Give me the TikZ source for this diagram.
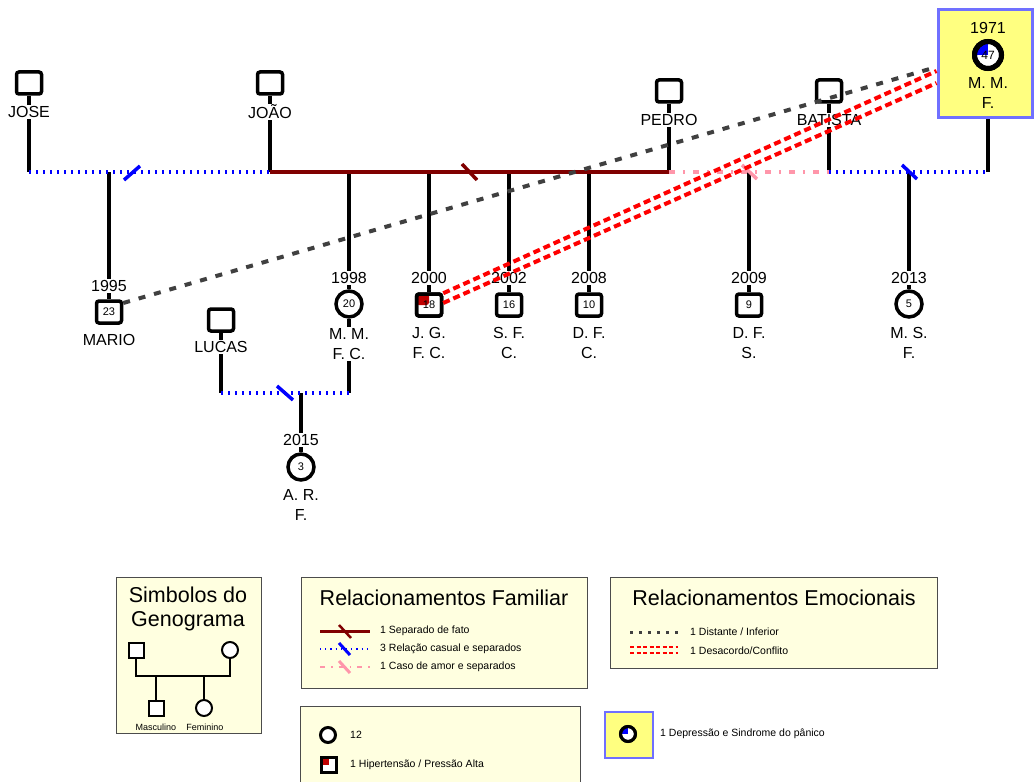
\documentclass[tikz,border=0pt]{standalone}
\usepackage{fontspec}
\setmainfont{Liberation Sans}
\usetikzlibrary{calc,backgrounds}
\definecolor{sepred}{RGB}{128,0,0}
\definecolor{relblue}{RGB}{0,0,255}
\definecolor{amorpink}{RGB}{255,150,170}
\definecolor{distgray}{RGB}{64,64,64}
\definecolor{legfill}{RGB}{255,255,224}
\definecolor{boxyellow}{RGB}{255,255,128}
\definecolor{boxblue}{RGB}{112,112,255}
\definecolor{hyperred}{RGB}{192,0,0}
\tikzset{
  male/.style={draw,line width=3.5pt,rounded corners=2.5pt,fill=white,minimum width=25pt,minimum height=22pt,inner sep=0pt,label={[font=\fontsize{11}{11}\selectfont]center:#1}},
  male/.default={},
  female/.style={draw,circle,line width=3.5pt,fill=white,minimum size=26pt,inner sep=0pt,label={[font=\fontsize{11}{11}\selectfont]center:#1}},
  female/.default={},
  hyper/.style={path picture={\fill[hyperred] (path picture bounding box.north west) rectangle (path picture bounding box.center);},postaction={draw}},
  depress/.style={path picture={\fill[relblue] (path picture bounding box.north west) rectangle (path picture bounding box.center);},postaction={draw}},
  lbl/.style={font=\fontsize{16}{20}\selectfont,align=center,fill=white,inner sep=1pt},
  famline/.style={line width=3.5pt},
  sepfato/.style={famline,sepred},
  casual/.style={famline,relblue,dash pattern=on 1.5pt off 5.5pt},
  amor/.style={famline,amorpink,dash pattern=on 6pt off 8pt on 2pt off 8pt},
  distante/.style={line width=4pt,distgray,dash pattern=on 7pt off 9pt},
  conflito/.style={line width=4pt,red,dash pattern=on 7pt off 4pt},
  legbox/.style={draw=black!70,fill=legfill,line width=1pt},
  legtitle/.style={font=\fontsize{21.5}{24}\selectfont,align=center},
  legitem/.style={font=\fontsize{10.5}{12}\selectfont,anchor=west,inner sep=0pt}
}
\begin{document}
\begin{tikzpicture}[x=1pt,y=-1pt]
    \useasboundingbox (0,0) rectangle (1035,781);
    % geracao de cima
    \node[male] (jose) at (29,83) {};
    \node[lbl] (joseN) at (29,112) {JOSE};
    \node[male] (joao) at (270,83) {};
    \node[lbl] (joaoN) at (270,112) {JOÃO};
    \node[male] (pedro) at (669,91) {};
    \node[lbl] (pedroN) at (669,120) {PEDRO};
    \node[male] (batista) at (829,91) {};
    \node[lbl] (batistaN) at (829,120) {BATISTA};
    \node[draw=boxblue,fill=boxyellow,line width=3pt,minimum width=94pt,minimum height=108pt] (mmf) at (985,64) {};
    \node[lbl,fill=none] (mmfY) at (988,28) {1971};
    \node[female={\fontsize{12}{12}\selectfont 47},depress,line width=5pt,minimum size=27pt] (mmfS) at (988,55) {};
    \node[lbl,fill=none] (mmfN) at (988,93) {M. M.\\F.};
    % filhos
    \node[lbl] (marioY) at (109,286) {1995};
    \node[male=23] (mario) at (109,312) {};
    \node[lbl] (marioN) at (109,340) {MARIO};
    \node[male] (lucas) at (221,320) {};
    \node[lbl] (lucasN) at (221,347) {LUCAS};
    \node[lbl] (mmfcY) at (349,278) {1998};
    \node[female=20] (mmfc) at (349,304) {};
    \node[lbl] (mmfcN) at (349,344) {M. M.\\F. C.};
    \node[lbl] (jgY) at (429,278) {2000};
    \node[male=18,hyper] (jg) at (429,305) {};
    \node[lbl] (jgN) at (429,343) {J. G.\\F. C.};
    \node[lbl] (sfcY) at (509,278) {2002};
    \node[male=16] (sfc) at (509,305) {};
    \node[lbl] (sfcN) at (509,343) {S. F.\\C.};
    \node[lbl] (dfcY) at (589,278) {2008};
    \node[male=10] (dfc) at (589,305) {};
    \node[lbl] (dfcN) at (589,343) {D. F.\\C.};
    \node[lbl] (dfsY) at (749,278) {2009};
    \node[male=9] (dfs) at (749,305) {};
    \node[lbl] (dfsN) at (749,343) {D. F.\\S.};
    \node[lbl] (msfY) at (909,278) {2013};
    \node[female=5] (msf) at (909,304) {};
    \node[lbl] (msfN) at (909,343) {M. S.\\F.};
    \node[lbl] (arfY) at (301,440) {2015};
    \node[female=3] (arf) at (301,467) {};
    \node[lbl] (arfN) at (301,505) {A. R.\\F.};
    \begin{scope}[on background layer]
        \coordinate (u1) at (0,172);
        \coordinate (u2) at (0,393);
        \foreach \p in {jose,joao,pedro,batista}
            \draw[famline] (\p) -- (\p |- u1);
        \draw[famline] (lucas) -- (lucas |- u2);
        \draw[famline] (mmfc) -- (mmfc |- u2);
        \draw[famline] (mmf.south -| mmfS) -- (mmfS |- u1);
        \foreach \c in {mario,mmfc,jg,sfc,dfc,dfs,msf}
            \draw[famline] (\c |- u1) -- (\c);
        \draw[famline] (arf |- u2) -- (arf);
        \draw[casual] (jose |- u1) -- (joao |- u1);
        \draw[sepfato] (joao |- u1) -- (pedro |- u1);
        \draw[amor] (pedro |- u1) -- (batista |- u1);
        \draw[casual] (batista |- u1) -- (mmfS |- u1);
        \draw[casual] (lucas |- u2) -- (mmfc |- u2);
        \draw[famline,relblue] (124,180) -- (140,166);
        \draw[famline,sepred] (462,164) -- (477,180);
        \draw[famline,amorpink] (742,165) -- (757,179);
        \draw[famline,relblue] (902,165) -- (917,179);
        \draw[famline,relblue] (277,386) -- (293,400);
    \end{scope}
    % relacoes emocionais
    \draw[distante] ($(mario.east)+(0,-9)$) -- ($(mmf.west)+(0,3)$);
    \draw[conflito] ($(jg.north east)+(0,1)$) -- ($(mmf.west)+(0,7)$);
    \draw[conflito] ($(jg.east)+(0,-2)$) -- ($(mmf.west)+(0,19)$);
    % legendas
    \draw[legbox] (116,577) rectangle (261,733);
    \node[legtitle] (symT) at (188,609) {Simbolos do\\Genograma};
    \node[draw,line width=2pt,fill=white,minimum size=15pt,inner sep=0pt] (symM1) at (136,650) {};
    \node[draw,circle,line width=2pt,fill=white,minimum size=16pt,inner sep=0pt] (symF1) at (230,650) {};
    \node[draw,line width=2pt,fill=white,minimum size=15pt,inner sep=0pt] (symM2) at (156,708) {};
    \node[draw,circle,line width=2pt,fill=white,minimum size=16pt,inner sep=0pt] (symF2) at (204,708) {};
    \coordinate (u3) at (0,676);
    \draw[line width=2pt] (symM1.south) -- (symM1 |- u3) -- (symF1 |- u3) -- (symF1.south);
    \draw[line width=2pt] (symM2 |- u3) -- (symM2.north);
    \draw[line width=2pt] (symF2 |- u3) -- (symF2.north);
    \node[font=\fontsize{9}{10}\selectfont,inner sep=0pt] (symML) at (156,727) {Masculino};
    \node[font=\fontsize{9}{10}\selectfont,inner sep=0pt] (symFL) at (205,727) {Feminino};

    \draw[legbox] (301,577) rectangle (587,688);
    \node[legtitle] (famT) at (444,598) {Relacionamentos Familiar};
    \draw[sepred,line width=3pt] (320,631) -- (370,631);
    \draw[sepred,line width=2.5pt] (339,625) -- (351,638);
    \node[legitem] (fam1) at (380,631) {1 Separado de fato};
    \draw[relblue,line width=2pt,dash pattern=on 1.2pt off 4pt] (320,649) -- (370,649);
    \draw[relblue,line width=3pt] (339,643) -- (350,655);
    \node[legitem] (fam2) at (380,649) {3 Relação casual e separados};
    \draw[amorpink,line width=2.5pt,dash pattern=on 5pt off 6pt on 1.5pt off 6pt] (320,667) -- (370,667);
    \draw[amorpink,line width=3pt] (339,661) -- (350,673);
    \node[legitem] (fam3) at (380,667) {1 Caso de amor e separados};

    \draw[legbox] (610,577) rectangle (937,668);
    \node[legtitle] (emoT) at (774,598) {Relacionamentos Emocionais};
    \draw[distgray,line width=3pt,dash pattern=on 3pt off 6pt] (630,632) -- (678,632);
    \node[legitem] (emo1) at (690,632) {1 Distante / Inferior};
    \draw[red,line width=2.5pt,dash pattern=on 4pt off 2.5pt] (630,647) -- (678,647);
    \draw[red,line width=2.5pt,dash pattern=on 4pt off 2.5pt] (630,653) -- (678,653);
    \node[legitem] (emo2) at (690,651) {1 Desacordo/Conflito};

    \draw[legbox] (300,706) rectangle (580,790);
    \node[draw,circle,line width=3pt,fill=white,minimum size=15pt,inner sep=0pt] (legF) at (328,735) {};
    \node[legitem] (leg12) at (350,735) {12};
    \node[draw,hyper,line width=3pt,fill=white,minimum size=15pt,inner sep=0pt] (legH) at (329,765) {};
    \node[legitem] (legHT) at (350,765) {1 Hipertensão / Pressão Alta};

    \draw[draw=boxblue,fill=boxyellow,line width=2.5pt] (605,712) rectangle (653,758);
    \node[draw,circle,depress,line width=3pt,fill=white,minimum size=15pt,inner sep=0pt] (legD) at (628,734) {};
    \node[legitem] (legDT) at (660,734) {1 Depressão e Sindrome do pânico};
\end{tikzpicture}
\end{document}
